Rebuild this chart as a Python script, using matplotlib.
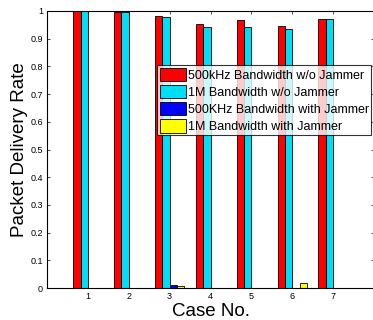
import numpy as np
import matplotlib
matplotlib.use("Agg")
import matplotlib.pyplot as plt

plt.rcParams['font.family'] = ['Liberation Sans', 'DejaVu Sans']

cases = [1, 2, 3, 4, 5, 6, 7]
bw500_no_jam = [1.0, 0.997, 0.983, 0.952, 0.968, 0.947, 0.972]
bw1m_no_jam = [0.999, 0.995, 0.977, 0.942, 0.943, 0.935, 0.970]
bw500_jam = [0.0, 0.0, 0.010, 0.0, 0.0, 0.0, 0.0]
bw1m_jam = [0.0, 0.0, 0.008, 0.0, 0.0, 0.018, 0.0]

series = [bw500_no_jam, bw1m_no_jam, bw500_jam, bw1m_jam]
labels = ["500kHz Bandwidth w/o Jammer", "1M Bandwidth w/o Jammer",
          "500KHz Bandwidth with Jammer", "1M Bandwidth with Jammer"]
colors = ["#ff0000", "#00ddf5", "#0000ff", "#ffff00"]

fig = plt.figure(figsize=(3.73, 3.2), dpi=100)
ax = fig.add_axes([47 / 373, 32 / 320, 327 / 373, 277 / 320])

x = np.array(cases, dtype=float)
w = 0.18
for i, (vals, lab, c) in enumerate(zip(series, labels, colors)):
    ax.bar(x + (i - 1.5) * w, vals, w, color=c, edgecolor="black",
           linewidth=0.6, label=lab)

ax.set_xlim(0, 8)
ax.set_ylim(0, 1)
ax.set_xticks(cases)
ax.set_yticks(np.arange(0, 1.01, 0.1))
ax.set_yticklabels(["0", "0.1", "0.2", "0.3", "0.4", "0.5", "0.6", "0.7", "0.8", "0.9", "1"])
ax.tick_params(direction="in", labelsize=6.5, length=2.5, width=0.5,
               top=True, right=True, pad=3)
for s in ax.spines.values():
    s.set_linewidth(0.8)

ax.set_xlabel("Case No.", fontsize=13.5, labelpad=1)
ax.set_ylabel("Packet Delivery Rate", fontsize=13.5, labelpad=1.5)

leg = ax.legend(loc="upper left", bbox_to_anchor=(0.337, 0.805), fontsize=9,
                frameon=True, fancybox=False, edgecolor="black",
                borderpad=0.2, labelspacing=0.25, handlelength=2.1,
                handleheight=1.3, handletextpad=0.15, borderaxespad=0)
leg.get_frame().set_linewidth(0.8)

fig.savefig("out.png", dpi=100)
